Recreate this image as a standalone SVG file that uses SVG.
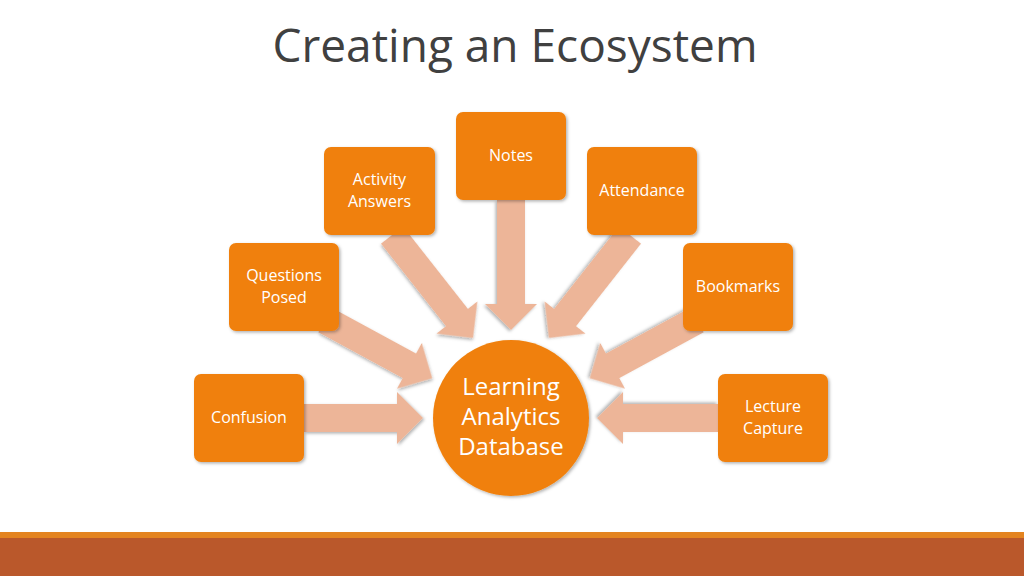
<svg xmlns="http://www.w3.org/2000/svg" width="1024" height="576" viewBox="0 0 1024 576">
<defs>
<style>
.n{fill:#F0800A;filter:url(#sh)}
.t{font-family:"Open Sans","Liberation Sans",sans-serif;fill:#fff;text-anchor:middle;font-size:16px}
.a{fill:#EDB598;filter:url(#sh)}
</style>
<filter id="sh" x="-20%" y="-20%" width="140%" height="140%"><feDropShadow dx="1.5" dy="1.5" stdDeviation="1.5" flood-color="#000" flood-opacity="0.3"/></filter>
<polygon id="ar" points="0,-14 0,14 0,14"/>
</defs>
<rect width="1024" height="576" fill="#fff"/>
<text x="515" y="62" font-family="'Open Sans','Liberation Sans',sans-serif" font-size="46" fill="#404040" text-anchor="middle">Creating an Ecosystem</text>
<rect x="0" y="532" width="1024" height="6" fill="#E48420"/>
<rect x="0" y="538" width="1024" height="38" fill="#BA582B"/>
<g id="connectors">
<polygon class="a" transform="translate(304,418)" points="0,-14 93,-14 93,-26 119,0 93,26 93,14 0,14"/>
<polygon class="a" transform="translate(718,418) rotate(180)" points="0,-14 95,-14 95,-26 121,0 95,26 95,14 0,14"/>
<polygon class="a" transform="translate(511,200) rotate(90)" points="0,-14 104,-14 104,-26 130,0 104,26 104,14 0,14"/>
<polygon class="a" transform="translate(392,235) rotate(51.8)" points="0,-14 105,-14 105,-26 131,0 105,26 105,14 0,14"/>
<polygon class="a" transform="translate(630,235) rotate(128.2)" points="0,-14 105,-14 105,-26 131,0 105,26 105,14 0,14"/>
<polygon class="a" transform="translate(325,320) rotate(28.5)" points="0,-14 96,-14 96,-26 122,0 96,26 96,14 0,14"/>
<polygon class="a" transform="translate(697,320) rotate(151.5)" points="0,-14 96,-14 96,-26 122,0 96,26 96,14 0,14"/>
</g>
<g id="notes"><rect class="n" x="456" y="112" width="110" height="88" rx="7"/><text class="t" x="511" y="161">Notes</text></g>
<g id="activity"><rect class="n" x="324" y="147" width="111" height="88" rx="7"/><text class="t" x="379.5" y="185">Activity</text><text class="t" x="379.5" y="207">Answers</text></g>
<g id="attendance"><rect class="n" x="587" y="147" width="110" height="88" rx="7"/><text class="t" x="642" y="196">Attendance</text></g>
<g id="questions"><rect class="n" x="229" y="243" width="110" height="88" rx="7"/><text class="t" x="284" y="281">Questions</text><text class="t" x="284" y="303">Posed</text></g>
<g id="bookmarks"><rect class="n" x="683" y="243" width="110" height="88" rx="7"/><text class="t" x="738" y="292">Bookmarks</text></g>
<g id="confusion"><rect class="n" x="194" y="374" width="110" height="88" rx="7"/><text class="t" x="249" y="423">Confusion</text></g>
<g id="lecture"><rect class="n" x="718" y="374" width="110" height="88" rx="7"/><text class="t" x="773" y="412">Lecture</text><text class="t" x="773" y="434">Capture</text></g>
<g id="center"><circle class="n" cx="511" cy="418" r="78"/>
<text class="t" font-size="24" x="511" y="395" style="font-size:24px">Learning</text>
<text class="t" x="511" y="425" style="font-size:24px">Analytics</text>
<text class="t" x="511" y="455" style="font-size:24px">Database</text></g>
</svg>
